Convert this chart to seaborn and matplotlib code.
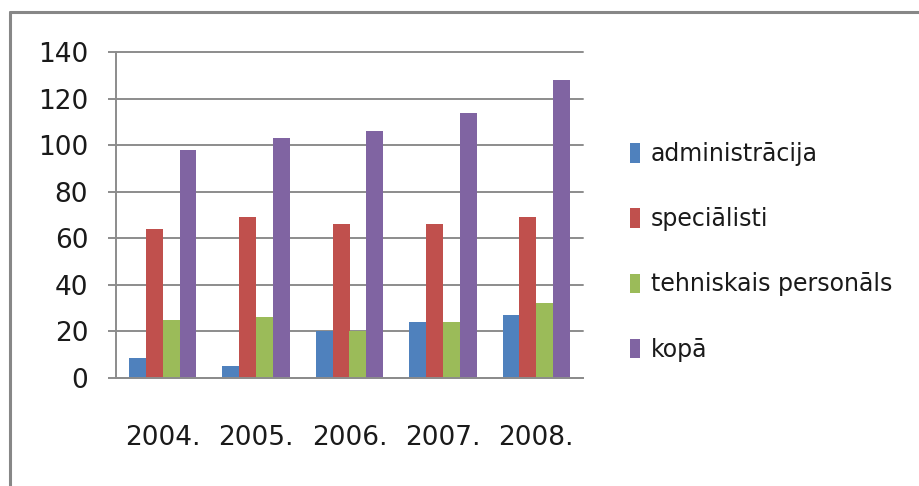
import numpy as np
import pandas as pd
import matplotlib.pyplot as plt
from matplotlib.lines import Line2D
import seaborn as sns

# =============================================================================
# Data
# =============================================================================
years = ['2004.', '2005.', '2006.', '2007.', '2008.']
series_names = ['administrācija', 'speciālisti', 'tehniskais personāls', 'kopā']
administracija = [8.5, 5, 20, 24, 27]
specialisti = [64, 69, 66, 66, 69]
tehniskais = [25, 26, 20, 24, 32]
kopa = [98, 103, 106, 114, 128]
y_ticks = [0, 20, 40, 60, 80, 100, 120, 140]

colors = ['#4F81BD', '#C0504D', '#9BBB59', '#8064A2']
grey = '#8C8C8C'

df = pd.DataFrame({
    'year': years * 4,
    'series': np.repeat(series_names, len(years)),
    'value': administracija + specialisti + tehniskais + kopa,
})

# =============================================================================
# Plot
# =============================================================================
sns.set_style("white")
plt.rcParams['font.family'] = ['DejaVu Sans']

fig = plt.figure(figsize=(9.2, 4.86), dpi=100)
ax = fig.add_axes([116 / 920, 1 - 378 / 486, (583 - 116) / 920, (378 - 52) / 486])

sns.barplot(
    data=df, x='year', y='value', hue='series',
    order=years, hue_order=series_names,
    palette=colors, width=0.72, gap=0, linewidth=0,
    saturation=1, ax=ax,
)

ax.set_xlim(-0.5, len(years) - 0.5)
ax.set_ylim(0, 140)
ax.set_yticks(y_ticks)
ax.set_xlabel('')
ax.set_ylabel('')

ax.yaxis.grid(True, color=grey, linewidth=1.4)
ax.set_axisbelow(True)
for gl in ax.get_ygridlines():
    gl.set_clip_on(False)
for side in ['top', 'right']:
    ax.spines[side].set_visible(False)
for side in ['left', 'bottom']:
    ax.spines[side].set_color(grey)
    ax.spines[side].set_linewidth(1.4)

# category separators as minor ticks, labels at the centres
ax.set_xticks(np.arange(-0.5, len(years)), minor=True)
ax.tick_params(axis='x', which='minor', length=8, width=1.4, color=grey, direction='out')
ax.tick_params(axis='x', which='major', length=0, pad=34, labelsize=19, labelcolor='#1a1a1a')
ax.tick_params(axis='y', which='major', length=6, width=1.4, color=grey, direction='out',
               left=True, pad=14, labelsize=19, labelcolor='#1a1a1a')

leg = ax.legend(
    loc='center left', bbox_to_anchor=(1.08, 0.387), frameon=False,
    fontsize=17, handlelength=0.45, handleheight=0.9, handletextpad=0.45,
    labelspacing=1.75, borderaxespad=0,
)
for t in leg.get_texts():
    t.set_color('#1a1a1a')

# outer chart frame (top and left edges visible in the crop)
fig.add_artist(Line2D([10 / 920, 1.0], [1 - 12 / 486, 1 - 12 / 486],
                      transform=fig.transFigure, color='#878787', linewidth=2.2))
fig.add_artist(Line2D([10 / 920, 10 / 920], [0.0, 1 - 12 / 486],
                      transform=fig.transFigure, color='#878787', linewidth=2.2))

plt.savefig('out.png', dpi=100)
plt.close()
